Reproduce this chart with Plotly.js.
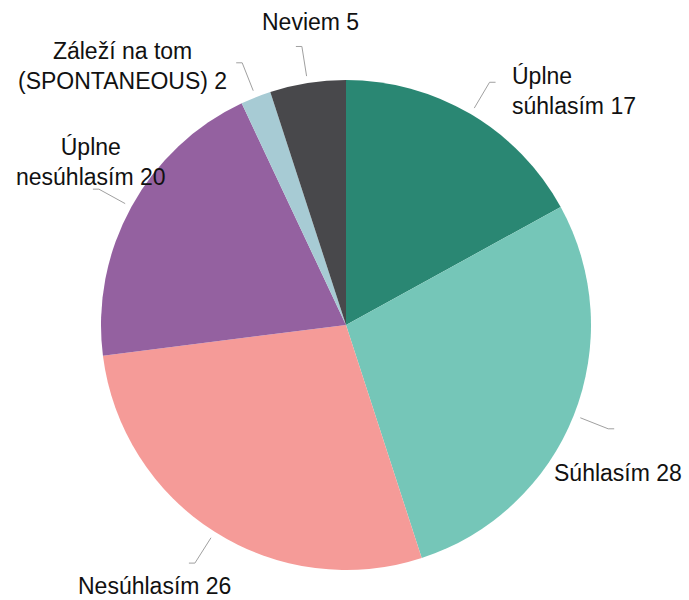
<!DOCTYPE html>
<html>
<head>
<meta charset="utf-8">
<script src="https://cdn.plot.ly/plotly-3.0.1.min.js"></script>
<style>
  body { margin: 0; background: #fff; }
  #graph { width: 689px; height: 600px; }
</style>
</head>
<body>
<div id="graph"></div>
<script>
// data
const labels = ["Úplne súhlasím", "Súhlasím", "Nesúhlasím", "Úplne nesúhlasím", "Záleží na tom (SPONTANEOUS)", "Neviem"];
const labelLines = ["Úplne<br>súhlasím", "Súhlasím", "Nesúhlasím", "Úplne<br>nesúhlasím", "Záleží na tom<br>(SPONTANEOUS)", "Neviem"];
// numbers printed in the labels
const labelValues = [17, 28, 26, 20, 2, 5];
// slice sizes as drawn (the "Nesúhlasím" wedge measures ~28% although it is labelled 26)
const sliceValues = [17, 28, 28, 20, 2, 5];
const colors = ["#2a8773", "#75c6b8", "#f59b98", "#9461a0", "#a7cbd4", "#48484b"];

// layout (pixels)
const W = 689, H = 600;
const cx = 346, cy = 325, R = 245;
const labelPos = [[510, 91, "left"], [552, 473, "left"], [76, 586, "left"], [91, 162, "center"], [122, 66, "center"], [310, 22, "center"]];

const px = x => x / W;
const py = y => 1 - y / H;

const total = sliceValues.reduce((a, b) => a + b, 0);
let shapes = [];
let annotations = [];
let cum = 0;
sliceValues.forEach((v, i) => {
    // leader line at the middle of the wedge
    const mid = (cum + v / 2) / total * 2 * Math.PI;
    cum += v;
    const s = Math.sin(mid), c = Math.cos(mid);
    const x1 = cx + 252 * s, y1 = cy - 252 * c;
    const x2 = cx + 282 * s, y2 = cy - 282 * c;
    const x3 = x2 + (s > 0 ? 6 : -6);
    shapes.push({
        type: "path", xref: "paper", yref: "paper",
        path: "M" + px(x1) + "," + py(y1) + " L" + px(x2) + "," + py(y2) + " L" + px(x3) + "," + py(y2),
        line: { color: "#a0a0a0", width: 1 }
    });
    const p = labelPos[i];
    annotations.push({
        xref: "paper", yref: "paper",
        x: px(p[0]), y: py(p[1]),
        xanchor: p[2], yanchor: "middle", align: p[2],
        text: labelLines[i] + " " + labelValues[i], showarrow: false,
        font: { family: "Liberation Sans, Arial, sans-serif", size: 23, color: "#111" }
    });
});

let trace = {
    type: "pie",
    labels: labels,
    values: sliceValues,
    customdata: labelValues,
    sort: false,
    direction: "clockwise",
    rotation: 0,
    textinfo: "none",
    hovertemplate: "%{label}: %{customdata}<extra></extra>",
    marker: { colors: colors, line: { width: 0 } },
    domain: { x: [px(cx - R), px(cx + R)], y: [py(cy + R), py(cy - R)] }
};

let layout = {
    width: W, height: H,
    margin: { l: 0, r: 0, t: 0, b: 0 },
    showlegend: false,
    paper_bgcolor: "#fff",
    shapes: shapes,
    annotations: annotations
};

Plotly.newPlot("graph", [trace], layout, { displayModeBar: false });
</script>
</body>
</html>
